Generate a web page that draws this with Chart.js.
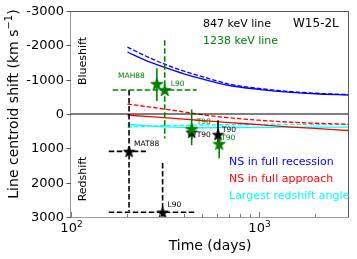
<!DOCTYPE html>
<html><head><meta charset="utf-8">
<script src="https://cdn.jsdelivr.net/npm/chart.js@4/dist/chart.umd.min.js"></script>
<style>html,body{margin:0;padding:0;background:#fff;}canvas{display:block;}</style>
</head><body>
<canvas id="c" width="357" height="259"></canvas>
<script>
// ---------------- data ----------------
const curveDays       = [200, 250, 300, 400, 500, 700, 1000, 1500, 2000, 3000];
const recessionSolid  = [-1806, -1560, -1400, -1170, -1020, -830, -720, -630, -590, -553];
const recessionDashed = [-1950, -1690, -1500, -1250, -1090, -870, -745, -650, -605, -565];
const approachSolid   = [30, 70, 100, 150, 190, 250, 310, 380, 420, 480];
const approachDashed  = [-290, -220, -160, -60, 20, 110, 180, 240, 270, 300];
const redshiftSolid   = [300, 340, 370, 390, 400, 395, 390, 385, 385, 385];
const redshiftDashed  = [380, 360, 345, 330, 320, 310, 305, 300, 300, 300];

// 847 keV line observations (black)
const obs847Labels  = ['MAT88', 'L90', 'T90', 'T90'];
const obs847Days    = [204, 308, 440, 608];
const obs847Shift   = [1090, 2860, 530, 600];
const obs847DaysLo  = [159, 159, null, null];
const obs847DaysHi  = [251, 460, null, null];
const obs847ShiftLo = [-700, 1430, 330, 185];
const obs847ShiftHi = [2830, 4300, 730, 1015];
const obs847Dashed  = [true, true, false, false];

// 1238 keV line observations (green)
const obs1238Labels  = ['MAH88', 'L90', 'T90', 'T90'];
const obs1238Days    = [287, 316, 440, 617];
const obs1238Shift   = [-880, -700, 430, 865];
const obs1238DaysLo  = [null, 167, null, null];
const obs1238DaysHi  = [null, 468, null, null];
const obs1238ShiftLo = [-1330, -2150, -130, 570];
const obs1238ShiftHi = [-380, 710, 910, 1290];
const obs1238Dashed  = [false, true, false, false];

const yTicks = [-3000, -2000, -1000, 0, 1000, 2000, 3000];
const xMajorTicks = [100, 1000];
const xMajorLabelBase = ['10', '10'];
const xMajorLabelExp = ['2', '3'];
const xMinorTicks = [200, 300, 400, 500, 600, 700, 800, 900, 2000];

// ---------------- styles ----------------
const BLUE = '#0000ff', RED = '#ff0000', CYAN = '#00ffff', GREEN = '#008000', BLACK = '#000000';
const FONT = '"DejaVu Sans", "Liberation Sans", sans-serif';

function makeStar(color, size) {
  const c = document.createElement('canvas');
  c.width = size; c.height = size;
  const g = c.getContext('2d');
  const cx = size / 2, cy = size / 2, R = size / 2 - 0.5, r = R * 0.4;
  g.beginPath();
  for (let i = 0; i < 10; i++) {
    const rad = i % 2 === 0 ? R : r;
    const ang = -Math.PI / 2 + i * Math.PI / 5;
    const px = cx + rad * Math.cos(ang), py = cy + rad * Math.sin(ang) + R * 0.1;
    if (i === 0) g.moveTo(px, py); else g.lineTo(px, py);
  }
  g.closePath();
  g.fillStyle = color; g.fill();
  g.strokeStyle = color; g.lineWidth = 0.8; g.stroke();
  return c;
}
const starBlack = makeStar(BLACK, 13);
const starGreen = makeStar(GREEN, 14);

function curve(vals, color, dashed, order) {
  return {
    type: 'line',
    data: curveDays.map((d, i) => ({x: d, y: vals[i]})),
    borderColor: color, borderWidth: 1.3, borderDash: dashed ? [4.5, 2] : [],
    pointRadius: 0, showLine: true, cubicInterpolationMode: 'monotone', order: order, fill: false
  };
}

function errorBars(days, shift, dLo, dHi, sLo, sHi, dashed, color, order) {
  const out = [];
  for (let i = 0; i < days.length; i++) {
    const common = {type: 'line', borderColor: color, borderWidth: 1.6,
      borderDash: dashed[i] ? [5.5, 2.5] : [], pointRadius: 0, showLine: true, order: order, fill: false};
    if (sLo[i] !== null) out.push(Object.assign({}, common, {data: [{x: days[i], y: sLo[i]}, {x: days[i], y: sHi[i]}]}));
    if (dLo[i] !== null) out.push(Object.assign({}, common, {data: [{x: dLo[i], y: shift[i]}, {x: dHi[i], y: shift[i]}]}));
  }
  return out;
}

const datasets = [
  curve(recessionSolid, BLUE, false, 10),
  curve(recessionDashed, BLUE, true, 10),
  curve(approachSolid, RED, false, 10),
  curve(approachDashed, RED, true, 10),
  curve(redshiftSolid, CYAN, false, 11),
  curve(redshiftDashed, CYAN, true, 11),
  {type: 'line', data: [{x: 100, y: 0}, {x: 3000, y: 0}], borderColor: BLACK, borderWidth: 1.2,
   pointRadius: 0, showLine: true, order: 9},
  ...errorBars(obs847Days, obs847Shift, obs847DaysLo, obs847DaysHi, obs847ShiftLo, obs847ShiftHi, obs847Dashed, BLACK, 6),
  ...errorBars(obs1238Days, obs1238Shift, obs1238DaysLo, obs1238DaysHi, obs1238ShiftLo, obs1238ShiftHi, obs1238Dashed, GREEN, 5),
  {type: 'scatter', data: obs847Days.map((d, i) => ({x: d, y: obs847Shift[i]})),
   pointStyle: starBlack, showLine: false, order: 2},
  {type: 'scatter', data: obs1238Days.map((d, i) => ({x: d, y: obs1238Shift[i]})),
   pointStyle: starGreen, showLine: false, order: 1}
];

// label offsets (style/layout only)
const lbl847Off = [[5, -7, 'left'], [5, -7, 'left'], [5, 3, 'left'], [4, -5, 'left']];
const lbl1238Off = [[-12, -8, 'right'], [6, -6, 'left'], [5, -7, 'left'], [2, -6, 'left']];

const deco = {
  id: 'deco',
  afterDraw(chart) {
    const {ctx, chartArea: a, scales: {x, y}} = chart;
    ctx.save();
    // point labels
    ctx.textBaseline = 'middle';
    ctx.font = '7.5px ' + FONT;
    obs847Labels.forEach((t, i) => {
      const o = lbl847Off[i];
      ctx.fillStyle = BLACK; ctx.textAlign = o[2];
      ctx.fillText(t, x.getPixelForValue(obs847Days[i]) + o[0], y.getPixelForValue(obs847Shift[i]) + o[1]);
    });
    obs1238Labels.forEach((t, i) => {
      const o = lbl1238Off[i];
      ctx.fillStyle = GREEN; ctx.textAlign = o[2];
      ctx.fillText(t, x.getPixelForValue(obs1238Days[i]) + o[0], y.getPixelForValue(obs1238Shift[i]) + o[1]);
    });

    // spines
    ctx.lineWidth = 1;
    ctx.strokeStyle = '#555';
    ctx.beginPath();
    ctx.moveTo(a.left, a.top + 0.5); ctx.lineTo(a.right + 0.5, a.top + 0.5);
    ctx.moveTo(a.right + 0.5, a.top); ctx.lineTo(a.right + 0.5, a.bottom);
    ctx.stroke();
    ctx.strokeStyle = '#999';
    ctx.beginPath();
    ctx.moveTo(a.left - 0.5, a.top); ctx.lineTo(a.left - 0.5, a.bottom + 0.5);
    ctx.moveTo(a.left - 1, a.bottom + 0.5); ctx.lineTo(a.right + 1, a.bottom + 0.5);
    ctx.stroke();

    // y ticks
    ctx.strokeStyle = '#555';
    ctx.fillStyle = BLACK;
    ctx.font = '13px ' + FONT;
    ctx.textAlign = 'right'; ctx.textBaseline = 'middle';
    yTicks.forEach(v => {
      const py = Math.round(y.getPixelForValue(v)) + 0.5;
      ctx.beginPath(); ctx.moveTo(a.left - 4.5, py); ctx.lineTo(a.left, py); ctx.stroke();
      ctx.fillText(String(v), a.left - 7, py);
    });
    // x ticks (inward)
    ctx.strokeStyle = '#777';
    xMinorTicks.forEach(v => {
      const px = Math.round(x.getPixelForValue(v)) + 0.5;
      ctx.beginPath(); ctx.moveTo(px, a.bottom); ctx.lineTo(px, a.bottom - 3); ctx.stroke();
    });
    xMajorTicks.forEach((v, i) => {
      const px = Math.round(x.getPixelForValue(v)) + 0.5;
      ctx.beginPath(); ctx.moveTo(px, a.bottom); ctx.lineTo(px, a.bottom - 5); ctx.stroke();
      ctx.font = '13px ' + FONT;
      const w1 = ctx.measureText(xMajorLabelBase[i]).width;
      ctx.font = '9px ' + FONT;
      const w2 = ctx.measureText(xMajorLabelExp[i]).width;
      const x0 = px - (w1 + w2) / 2;
      ctx.textAlign = 'left'; ctx.textBaseline = 'alphabetic';
      ctx.font = '13px ' + FONT;
      ctx.fillText(xMajorLabelBase[i], x0, a.bottom + 15);
      ctx.font = '9px ' + FONT;
      ctx.fillText(xMajorLabelExp[i], x0 + w1, a.bottom + 10);
    });

    // axis titles
    ctx.font = '14px ' + FONT;
    ctx.textAlign = 'center'; ctx.textBaseline = 'middle';
    ctx.fillText('Time (days)', 210, 246);
    // y title with superscript
    ctx.save();
    ctx.translate(13, 104);
    ctx.rotate(-Math.PI / 2);
    const p1 = 'Line centroid shift (km s', p2 = '\u22121', p3 = ')';
    ctx.font = '14px ' + FONT; const w1 = ctx.measureText(p1).width; const w3 = ctx.measureText(p3).width;
    ctx.font = '10px ' + FONT; const w2 = ctx.measureText(p2).width;
    let sx = -(w1 + w2 + w3) / 2;
    ctx.textAlign = 'left'; ctx.textBaseline = 'alphabetic';
    ctx.font = '14px ' + FONT; ctx.fillText(p1, sx, 5);
    ctx.font = '10px ' + FONT; ctx.fillText(p2, sx + w1, -1);
    ctx.font = '14px ' + FONT; ctx.fillText(p3, sx + w1 + w2, 5);
    ctx.restore();

    // Blueshift / Redshift
    ctx.font = '11px ' + FONT;
    ctx.textAlign = 'center'; ctx.textBaseline = 'middle';
    [['Blueshift', 61], ['Redshift', 179]].forEach(([t, cy]) => {
      ctx.save(); ctx.translate(83, cy); ctx.rotate(-Math.PI / 2); ctx.fillText(t, 0, 0); ctx.restore();
    });

    // header texts
    ctx.textAlign = 'left';
    ctx.font = '11px ' + FONT;
    ctx.fillStyle = BLACK; ctx.fillText('847 keV line', 203, 24);
    ctx.font = '12px ' + FONT; ctx.fillText('W15-2L', 293, 24);
    ctx.font = '11px ' + FONT;
    ctx.fillStyle = GREEN; ctx.fillText('1238 keV line', 203, 41);

    // legend texts
    ctx.fillStyle = BLUE; ctx.fillText('NS in full recession', 229, 162);
    ctx.fillStyle = RED; ctx.fillText('NS in full approach', 229, 179);
    ctx.fillStyle = CYAN; ctx.fillText('Largest redshift angle', 229, 196);
    ctx.restore();
  }
};

new Chart(document.getElementById('c'), {
  type: 'scatter',
  data: {datasets: datasets},
  options: {
    responsive: false, animation: false, devicePixelRatio: 1,
    layout: {padding: {left: 71, top: 11, right: 9, bottom: 42}},
    plugins: {legend: {display: false}, tooltip: {enabled: false}, title: {display: false}},
    scales: {
      x: {type: 'logarithmic', min: 100, max: 3000, display: false},
      y: {type: 'linear', min: -3000, max: 3000, reverse: true, display: false}
    }
  },
  plugins: [deco]
});
</script>
</body></html>
